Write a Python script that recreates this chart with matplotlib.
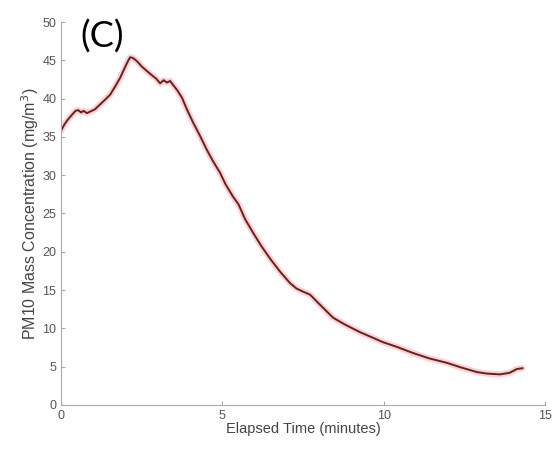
import numpy as np
import matplotlib.pyplot as plt

# valores
tiempo = [0.0, 0.1, 0.2, 0.34, 0.45, 0.53, 0.62, 0.7, 0.8, 0.9, 1.05, 1.2, 1.35, 1.52, 1.68, 1.83,
          1.95, 2.05, 2.14, 2.23, 2.35, 2.5, 2.66, 2.8, 2.95, 3.07, 3.18, 3.28, 3.38, 3.47,
          3.6, 3.75, 3.9, 4.09, 4.3, 4.52, 4.7, 4.93, 5.1, 5.33, 5.5, 5.7, 5.95, 6.2,
          6.48, 6.79, 7.1, 7.3, 7.5, 7.72, 8.0, 8.43, 8.8, 9.27, 9.6, 9.98, 10.4, 10.9,
          11.4, 11.96, 12.4, 12.89, 13.2, 13.6, 13.9, 14.13, 14.3]
pm10 = [35.8, 36.6, 37.2, 37.9, 38.4, 38.5, 38.2, 38.4, 38.1, 38.3, 38.6, 39.2, 39.8, 40.5, 41.6, 42.7,
        43.8, 44.7, 45.4, 45.3, 44.9, 44.2, 43.6, 43.1, 42.6, 42.0, 42.4, 42.1, 42.3, 41.8,
        41.1, 40.1, 38.6, 36.9, 35.2, 33.3, 31.9, 30.3, 28.8, 27.2, 26.2, 24.3, 22.5, 20.8,
        19.1, 17.4, 15.9, 15.2, 14.8, 14.4, 13.2, 11.4, 10.5, 9.5, 8.9, 8.2, 7.6, 6.8,
        6.1, 5.5, 4.9, 4.3, 4.1, 4.0, 4.2, 4.7, 4.8]

plt.rcParams['font.family'] = ['Liberation Sans', 'DejaVu Sans']
f = plt.figure(figsize=(5.55, 4.49), dpi=100)
ax = f.add_axes([0.110, 0.098, 0.872, 0.853])

ax.plot(tiempo, pm10, color='#f08080', linewidth=4.5, alpha=0.35, solid_capstyle='round')
ax.plot(tiempo, pm10, color='#6e1e1e', linewidth=1.4)

ax.set_xlim(0, 15)
ax.set_ylim(0, 50)
ax.set_xticks([0, 5, 10, 15])
ax.set_yticks(range(0, 51, 5))
for lado in ['top', 'right']:
    ax.spines[lado].set_visible(False)
for lado in ['left', 'bottom']:
    ax.spines[lado].set_color('#aaaaaa')
ax.tick_params(direction='in', length=3, color='#aaaaaa', labelcolor='#555555', labelsize=9)
ax.set_xlabel('Elapsed Time (minutes)', color='#444444', fontsize=10.5, labelpad=0)
ax.set_ylabel('PM10 Mass Concentration (mg/m$^3$)', color='#444444', fontsize=11.5, labelpad=1)

f.text(0.144, 0.895, '(C)', fontsize=26, family='Lato', color='black')

f.savefig('out.png')
